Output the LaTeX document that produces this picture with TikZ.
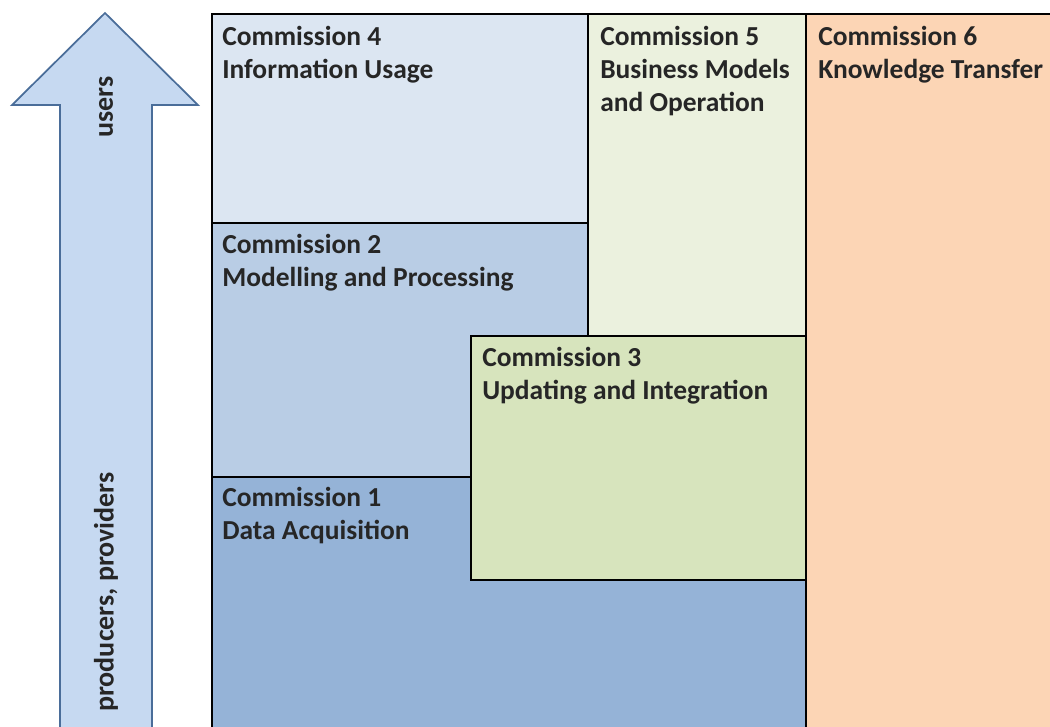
\documentclass[tikz,border=0pt]{standalone}
\usepackage{fontspec}
\setmainfont{Carlito}
\definecolor{arrowfill}{HTML}{C6D9F1}
\definecolor{arrowline}{HTML}{4A6D99}
\definecolor{cfour}{HTML}{DCE6F2}
\definecolor{cfive}{HTML}{EBF1DE}
\definecolor{csix}{HTML}{FCD5B5}
\definecolor{ctwo}{HTML}{B9CDE5}
\definecolor{cone}{HTML}{95B3D7}
\definecolor{cthree}{HTML}{D7E4BD}
\begin{document}
\begin{tikzpicture}[x=0.75pt,y=-0.75pt,
  box/.style={draw=black,line width=2pt},
  label/.style={anchor=base west,inner sep=0pt,font=\fontsize{20.6}{24.75}\selectfont\bfseries,text=black!85},
  arrowtext/.style={rotate=90,inner sep=0pt,font=\fontsize{21}{24}\selectfont\bfseries,text=black!85}]
\useasboundingbox (0,0) rectangle (1050,726);
\begin{scope}
\clip (0,0) rectangle (1050,726);
% arrow
\draw[fill=arrowfill,draw=arrowline,line width=1.3pt,line join=miter]
  (60,740) -- (60,105) -- (12,105) -- (105,13) -- (198,105) -- (152,105) -- (152,740);
\node[arrowtext] (users) at (106,107) {users};
\node[arrowtext] (prod) at (106,592) {producers, providers};
% boxes
\draw[box,fill=cfour] (212,14) rectangle (588,223);
\draw[box,fill=cfive] (588,14) rectangle (806,336);
\draw[box,fill=csix] (806,14) rectangle (1070,740);
\draw[box,fill=ctwo] (212,223) rectangle (588,477);
\draw[box,fill=cone] (212,477) rectangle (806,740);
\draw[box,fill=cthree] (471,336) rectangle (806,580);
\end{scope}
% labels
\node[label] (c4a) at (222,45) {Commission 4};
\node[label] (c4b) at (222,78) {Information Usage};
\node[label] (c5a) at (600,45) {Commission 5};
\node[label] (c5b) at (600,78) {Business Models};
\node[label] (c5c) at (600,111) {and Operation};
\node[label] (c6a) at (818,45) {Commission 6};
\node[label] (c6b) at (818,78) {Knowledge Transfer};
\node[label] (c2a) at (222,253) {Commission 2};
\node[label] (c2b) at (222,286) {Modelling and Processing};
\node[label] (c3a) at (482,366) {Commission 3};
\node[label] (c3b) at (482,399) {Updating and Integration};
\node[label] (c1a) at (222,506) {Commission 1};
\node[label] (c1b) at (222,539) {Data Acquisition};
\end{tikzpicture}
\end{document}
